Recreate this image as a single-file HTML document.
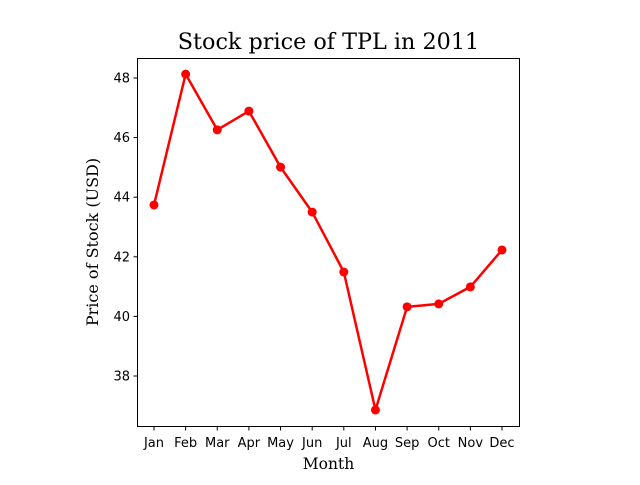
<!DOCTYPE html>
<html><head><meta charset="utf-8"><style>
body{margin:0;background:#fff;}
svg text{font-family:"DejaVu Sans","Liberation Sans",sans-serif;}
.serif{font-family:"DejaVu Serif","Liberation Serif",serif;}
</style></head><body>
<svg id="chart" width="640" height="480">
<rect width="640" height="480" fill="#fff"/>
<text class="serif" x="328.5" y="49" font-size="22.3" text-anchor="middle">Stock price of TPL in 2011</text>
<text class="serif" x="328.5" y="469" font-size="15.5" text-anchor="middle">Month</text>
<text class="serif" x="0" y="0" font-size="16" text-anchor="middle" transform="translate(98,242) rotate(-90)">Price of Stock (USD)</text>
<g id="ticks"></g>
<g id="marks"></g>
<rect x="137.5" y="58.5" width="382" height="368" fill="none" stroke="#000" stroke-width="1"/>
</svg>
<script>
const months=["Jan","Feb","Mar","Apr","May","Jun","Jul","Aug","Sep","Oct","Nov","Dec"];
const prices=[43.74,48.13,46.26,46.89,45.01,43.50,41.49,36.86,40.32,40.42,40.99,42.23];
const yTicks=[38,40,42,44,46,48];
const NS="http://www.w3.org/2000/svg";
function x(i){return 154+i*(502-154)/(months.length-1);}
function y(v){return 78+(48-v)*29.8;}
const tg=document.getElementById('ticks'), mg=document.getElementById('marks');
function mk(tag,attrs,parent){const e=document.createElementNS(NS,tag);for(const k in attrs)e.setAttribute(k,attrs[k]);parent.appendChild(e);return e;}
months.forEach((m,i)=>{
  const l=mk('line',{x1:x(i),x2:x(i),y1:426.5,y2:430.5,stroke:'#000'},tg);
  
  
  const t=mk('text',{x:x(i),y:447,'font-size':13,'text-anchor':'middle'},tg);
  t.textContent=m;
  
  
});
yTicks.forEach(v=>{
  const l=mk('line',{x1:133.5,x2:137.5,y1:y(v),y2:y(v),stroke:'#000'},tg);
  
  
  const t=mk('text',{x:130,y:y(v)+4.5,'font-size':13,'text-anchor':'end'},tg);
  t.textContent=v;
  
  
});
const pl=mk('polyline',{points:prices.map((v,i)=>x(i)+','+y(v)).join(' '),fill:'none',stroke:'#ff0000','stroke-width':2.5,'stroke-linejoin':'round'},mg);


prices.forEach((v,i)=>{
  const c=mk('circle',{cx:x(i),cy:y(v),r:4.5,fill:'#ff0000'},mg);
  
  
});
</script>
</body></html>
